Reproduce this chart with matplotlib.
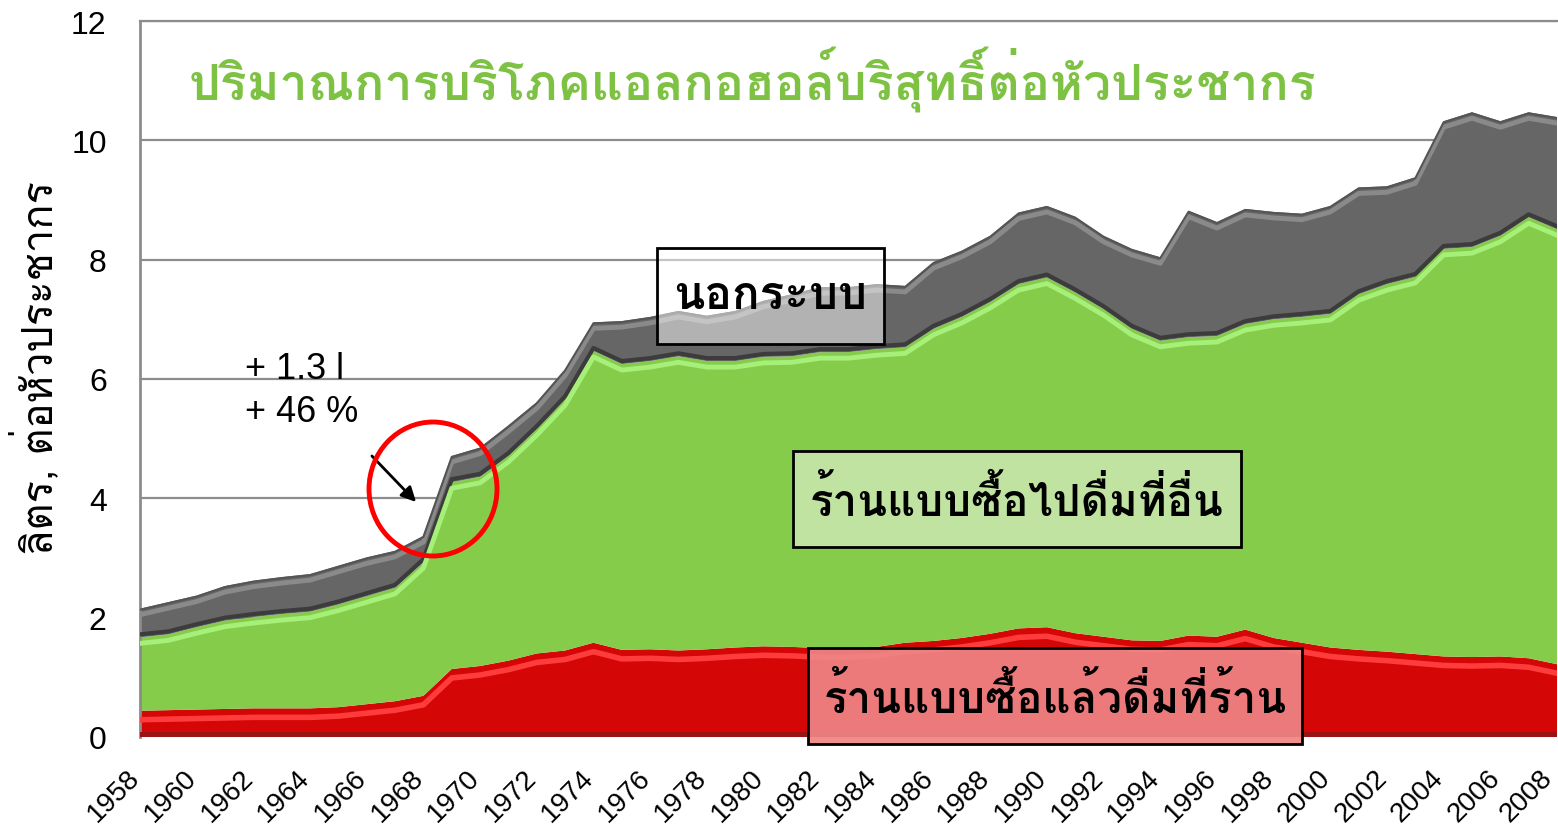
import matplotlib
matplotlib.use("Agg")
import matplotlib.pyplot as plt
import matplotlib.transforms as mtransforms
from matplotlib.patches import Ellipse, Rectangle
import numpy as np

plt.rcParams["font.family"] = ["Liberation Sans", "DejaVu Sans"]
# Loma puts tone marks high by default, so stacked marks stay visible without shaping
THAI = ["Loma", "Sarabun"]

# ---- data (litres of pure alcohol per capita) ----
years = np.arange(1958, 2009)

on_premise = [
    0.44, 0.45, 0.46, 0.47, 0.48, 0.48, 0.48, 0.50, 0.55, 0.60,
    0.69, 1.14, 1.19, 1.28, 1.40, 1.45, 1.58, 1.46, 1.47, 1.45,
    1.47, 1.50, 1.52, 1.51, 1.49, 1.49, 1.51, 1.58, 1.61, 1.66,
    1.73, 1.82, 1.84, 1.74, 1.68, 1.62, 1.61, 1.70, 1.68, 1.80,
    1.66, 1.58, 1.50, 1.46, 1.43, 1.39, 1.35, 1.34, 1.35, 1.32,
    1.22,
]
off_premise = [
    1.23, 1.27, 1.38, 1.48, 1.53, 1.58, 1.62, 1.72, 1.81, 1.90,
    2.24, 3.13, 3.17, 3.43, 3.76, 4.21, 4.89, 4.79, 4.83, 4.93,
    4.83, 4.80, 4.85, 4.87, 4.96, 4.96, 4.99, 4.95, 5.23, 5.38,
    5.56, 5.77, 5.86, 5.71, 5.49, 5.22, 5.03, 5.00, 5.04, 5.12,
    5.34, 5.46, 5.59, 5.96, 6.16, 6.32, 6.83, 6.87, 7.05, 7.39,
    7.29,
]
unrecorded = [
    0.48, 0.54, 0.53, 0.58, 0.61, 0.62, 0.63, 0.65, 0.65, 0.62,
    0.44, 0.44, 0.49, 0.51, 0.45, 0.50, 0.48, 0.72, 0.74, 0.76,
    0.76, 0.84, 0.94, 1.04, 1.09, 1.09, 1.09, 1.03, 1.12, 1.11,
    1.11, 1.20, 1.20, 1.27, 1.23, 1.34, 1.40, 2.12, 1.91, 1.93,
    1.80, 1.73, 1.81, 1.79, 1.64, 1.67, 2.14, 2.26, 1.92, 1.76,
    1.88,
]

title = "ปริมาณการบริโภคแอลกอฮอล์บริสุทธิ์ต่อหัวประชากร"
y_label = "ลิตร, ต่อหัวประชากร"
lbl_unrecorded = "นอกระบบ"
lbl_off = "ร้านแบบซื้อไปดื่มที่อื่น"
lbl_on = "ร้านแบบซื้อแล้วดื่มที่ร้าน"
note_lines = ["+ 1.3 l", "+ 46 %"]

RED, GREEN, GREY = "#d40606", "#84cc4a", "#666666"

W, H = 1558, 828
fig = plt.figure(figsize=(W / 100, H / 100), dpi=100)
ax = fig.add_axes([140 / W, 1 - 738 / H, (W - 141) / W, (738 - 22) / H])


def fx(px):
    return px / W


def fy(py):
    return 1 - py / H


ax.stackplot(years, on_premise, off_premise, unrecorded,
             colors=[RED, GREEN, GREY], linewidth=0, zorder=2)

# fake bevel: highlight lines just below each layer top, dark line under the grey
red_top = np.array(on_premise)
green_top = red_top + np.array(off_premise)
grey_top = green_top + np.array(unrecorded)


def shifted(dy):
    return mtransforms.offset_copy(ax.transData, fig=fig, x=0, y=dy, units="dots")


ax.plot(years, green_top, color="#3c3c3c", lw=3, transform=shifted(3), zorder=3)
ax.plot(years, grey_top, color="#8a8a8a", lw=3.5, transform=shifted(-6), zorder=3)
ax.plot(years, grey_top, color="#555555", lw=1.5, transform=shifted(-1), zorder=3)
ax.plot(years, green_top, color="#a6f07a", lw=3.5, transform=shifted(-6), zorder=3)
ax.plot(years, red_top, color="#ff3c3c", lw=4, transform=shifted(-9), zorder=3)
ax.plot(years, np.zeros(len(years)), color="#9a1414", lw=5, transform=shifted(2.5), zorder=3)

ax.set_xlim(1958, 2008)
ax.set_ylim(0, 12)
ax.set_yticks(np.arange(0, 13, 2))
ax.set_xticks(years[::2])
ax.set_xticklabels([str(y) for y in years[::2]], rotation=45, ha="right",
                   va="center", rotation_mode="anchor")
ax.tick_params(axis="x", length=0, pad=26, labelsize=20)
ax.tick_params(axis="y", length=0, pad=24, labelsize=23)
xlabels = ax.get_xticklabels()
for i, lab in enumerate(xlabels):
    dx = -9 if i == len(xlabels) - 1 else -4
    lab.set_transform(lab.get_transform()
                      + mtransforms.ScaledTranslation(dx / 100, 0, fig.dpi_scale_trans))
ax.grid(axis="y", color="#8c8c8c", lw=1.6, zorder=1)
ax.set_axisbelow(True)
for side in ["top", "right", "bottom"]:
    ax.spines[side].set_visible(False)
ax.spines["left"].set_color("#8c8c8c")
ax.spines["left"].set_linewidth(2)
ax.axhline(12, color="#8c8c8c", lw=1.6, zorder=1, clip_on=False)

fig.text(fx(36), fy(368), y_label, rotation=90, ha="center", va="center",
         family=THAI, fontsize=30, color="black")
fig.text(fx(752), fy(80), title, ha="center", va="center",
         family=THAI, fontsize=36, fontweight="bold", color="#7dc242")

# label boxes
boxes = [
    (lbl_unrecorded, 657, 249, 884, 345, "white", 0.5, 33),
    (lbl_off, 793, 452, 1241, 548, "#c7e6aa", 0.92, 31.5),
    (lbl_on, 808, 649, 1302, 745, "#ef8585", 0.92, 31.5),
]
for text, x0, y0, x1, y1, face, alpha, size in boxes:
    fig.patches.append(Rectangle((fx(x0), fy(y1)), fx(x1) - fx(x0), fy(y0) - fy(y1),
                                 transform=fig.transFigure, facecolor=face, alpha=alpha,
                                 edgecolor="none", zorder=5))
    fig.patches.append(Rectangle((fx(x0), fy(y1)), fx(x1) - fx(x0), fy(y0) - fy(y1),
                                 transform=fig.transFigure, facecolor="none",
                                 edgecolor="black", lw=2, zorder=6))
    fig.text(fx((x0 + x1) / 2), fy((y0 + y1) / 2), text, ha="center", va="center",
             family=THAI, fontweight="bold", fontsize=size, color="black", zorder=7)

# annotation for the 1968-69 jump
fig.text(fx(245), fy(370), note_lines[0], ha="left", va="center", fontsize=26)
fig.text(fx(245), fy(413), note_lines[1], ha="left", va="center", fontsize=26)
fig.patches.append(Ellipse((fx(433), fy(490)), fx(128), 134 / H,
                           transform=fig.transFigure, facecolor="none",
                           edgecolor="#ff0000", lw=3.5, zorder=6))
ax.annotate("", xy=(fx(418), fy(505)), xytext=(fx(370), fy(455)),
            xycoords="figure fraction", textcoords="figure fraction",
            arrowprops=dict(arrowstyle="-|>", color="black", lw=2, mutation_scale=22),
            zorder=7)

fig.savefig("out.png", dpi=100)
